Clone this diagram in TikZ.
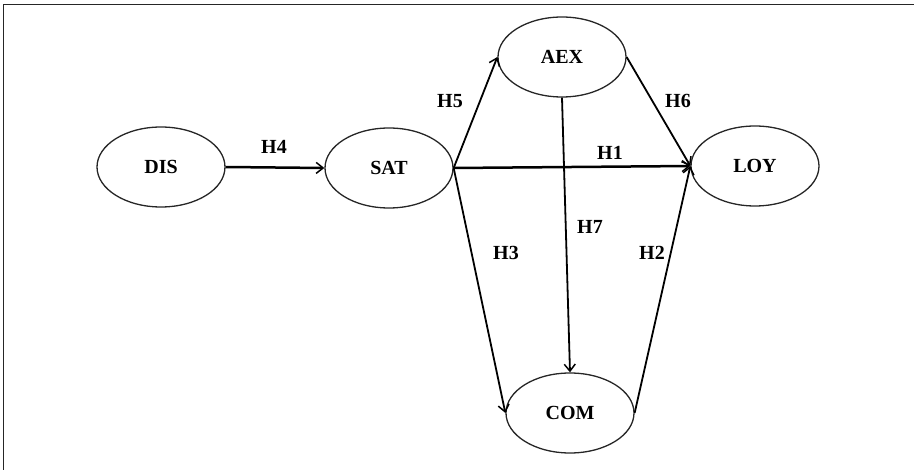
\documentclass[tikz,border=0pt]{standalone}
\usepackage{fontspec}
\setmainfont{Liberation Serif}
\usetikzlibrary{shapes.geometric,arrows.meta}
\begin{document}
\begin{tikzpicture}[x=1pt,y=-1pt,
  construct/.style={ellipse,draw=black!85,line width=1.3pt,minimum width=128pt,minimum height=80pt,inner sep=0pt,font=\fontsize{20}{20}\selectfont\bfseries},
  hyp/.style={font=\fontsize{20}{20}\selectfont\bfseries,inner sep=0pt},
  path/.style={draw=black,line width=1.8pt,-{Straight Barb[length=7pt,width=11pt,line width=1.5pt]}},
  thickpath/.style={path,line width=2.5pt}]
\useasboundingbox (0,0) rectangle (914,470);
\draw[line width=1.5pt,black!85] (3.5,470) -- (3.5,4.5) -- (914,4.5);
\node[construct] (DIS) at (161,167) {DIS};
\node[construct] (SAT) at (389,168) {SAT};
\node[construct] (AEX) at (562,57) {AEX};
\node[construct] (LOY) at (755,166) {LOY};
\node[construct] (COM) at (570,413) {COM};
\draw[thickpath] (DIS.east) -- (SAT.west);
\draw[path] (SAT.east) -- (AEX.west);
\draw[thickpath] (SAT.east) -- (LOY.west);
\draw[path] (AEX.east) -- (LOY.west);
\draw[path] (AEX.south) -- (COM.north);
\draw[path] (SAT.east) -- (COM.west);
\draw[path] (COM.east) -- (LOY.west);
\node[hyp] (h4) at (274,147) {H4};
\node[hyp] (h5) at (450,101) {H5};
\node[hyp] (h1) at (610,153) {H1};
\node[hyp] (h6) at (678,101) {H6};
\node[hyp] (h7) at (590,227) {H7};
\node[hyp] (h3) at (506,253) {H3};
\node[hyp] (h2) at (652,253) {H2};
\end{tikzpicture}
\end{document}
